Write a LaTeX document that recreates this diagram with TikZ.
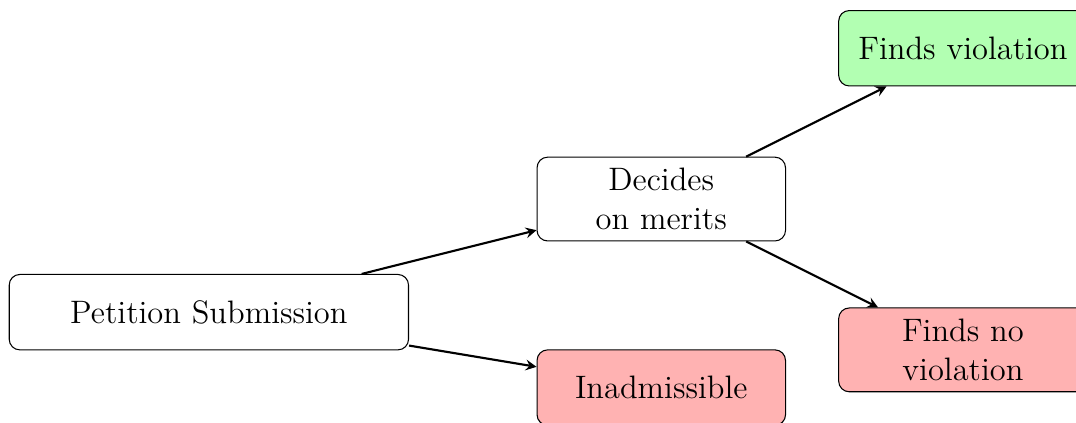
\documentclass[tikz,border=0pt]{standalone}
\usepackage{tikz}
\usetikzlibrary{arrows.meta,positioning}

\begin{document}
\begin{tikzpicture}[
  box/.style={
    draw, rounded corners, text width=3cm, minimum height=1cm,
    inner sep=4.2pt, align=center, font=\fontsize{12.25}{14.6}\selectfont,
    fill=white,
  },
  good/.style={box, fill=green!30},
  bad/.style={box, fill=red!30},
  arrow/.style={->, >=stealth, thick},
]
\useasboundingbox (-2.77,-1.466) rectangle (11.50,4.14);

\node[box, text width=5cm] (petition) at (0,0) {Petition Submission};
\node[box] (merits) at (6,1.5) {Decides\\on merits};
\node[bad] (inadm) at (6,-1) {Inadmissible};
\node[good] (viol) at (10,3.5) {Finds violation};
\node[bad] (noviol) at (10,-0.5) {Finds no\\violation};

\draw[arrow] (petition) -- (merits);
\draw[arrow] (petition) -- (inadm);
\draw[arrow] (merits) -- (viol);
\draw[arrow] (merits) -- (noviol);

\end{tikzpicture}
\end{document}
